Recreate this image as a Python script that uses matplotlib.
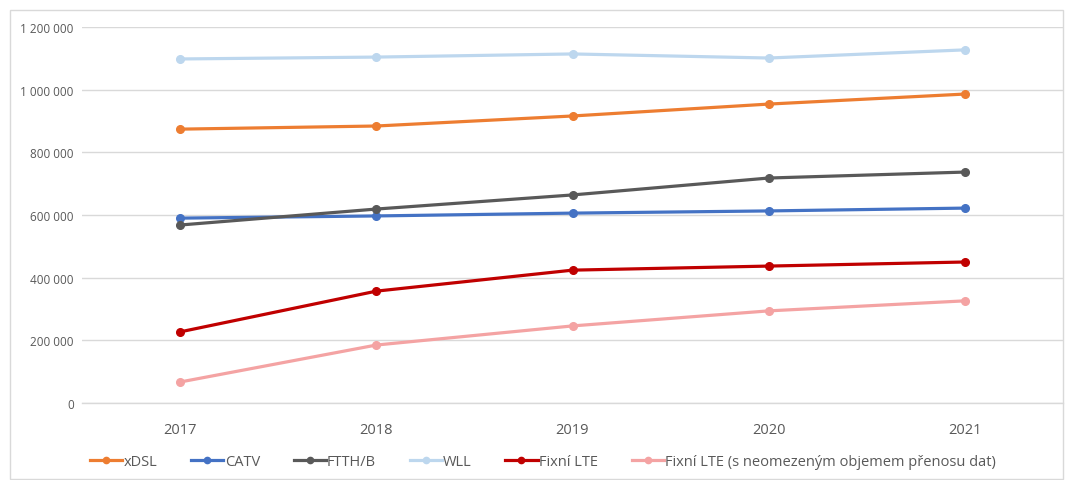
import matplotlib
matplotlib.use("Agg")
import matplotlib.pyplot as plt
from matplotlib.patches import Rectangle
from matplotlib.ticker import FuncFormatter
from matplotlib.lines import Line2D

years = ["2017", "2018", "2019", "2020", "2021"]
xdsl = [874000, 884000, 916000, 954000, 986000]
catv = [590000, 597000, 606000, 613000, 622000]
ftth = [568000, 619000, 664000, 718000, 737000]
wll = [1098000, 1104000, 1114000, 1101000, 1127000]
lte = [227000, 357000, 424000, 437000, 450000]
lte_unl = [67000, 185000, 246000, 294000, 326000]

series = [
    ("xDSL", xdsl, "#ED7D31"),
    ("CATV", catv, "#4472C4"),
    ("FTTH/B", ftth, "#595959"),
    ("WLL", wll, "#BDD7EE"),
    ("Fixní LTE", lte, "#C00000"),
    ("Fixní LTE (s neomezeným objemem přenosu dat)", lte_unl, "#F4A3A3"),
]

plt.rcParams['font.family'] = ['Open Sans', 'DejaVu Sans']

W, H = 1065, 481
fig = plt.figure(figsize=(W / 100, H / 100), dpi=100)
ax = fig.add_axes([82 / W, 1 - 404 / H, (1063 - 82) / W, (404 - 28) / H])

x = list(range(len(years)))
handles = []
for name, vals, col in series:
    ax.plot(x, vals, color=col, lw=2.3, marker='o', ms=5.5, solid_capstyle='round')
    handles.append(Line2D([], [], color=col, lw=2.3, marker='o', ms=4.5, label=name))

ax.set_xlim(-0.5, len(years) - 0.5)
ax.set_ylim(0, 1200000)
ax.set_yticks(range(0, 1200001, 200000))
ax.yaxis.set_major_formatter(FuncFormatter(lambda v, p: f"{int(v):,}".replace(",", " ")))
ax.set_xticks(x)
ax.set_xticklabels(years)
ax.grid(axis='y', color='#D9D9D9', lw=1)
ax.axhline(0, color='#D9D9D9', lw=1, clip_on=False, zorder=0)
ax.set_axisbelow(True)
for s in ax.spines.values():
    s.set_visible(False)
ax.tick_params(axis='y', length=0, labelsize=8.5, labelcolor='#595959', pad=6)
ax.tick_params(axis='x', length=0, labelsize=10.5, labelcolor='#595959', pad=14)

fig.legend(handles=handles, loc='center', bbox_to_anchor=(0.51, 1 - 463 / H), ncol=6,
           frameon=False, fontsize=10.5, handlelength=2.2, columnspacing=2.3,
           handletextpad=0.1, labelcolor='#595959')

fig.patches.append(Rectangle((10 / W, 1 / H), (1063 - 10) / W, (481 - 12) / H,
                             transform=fig.transFigure, fill=False,
                             edgecolor='#D9D9D9', lw=1))

fig.savefig("out.png", dpi=100)
